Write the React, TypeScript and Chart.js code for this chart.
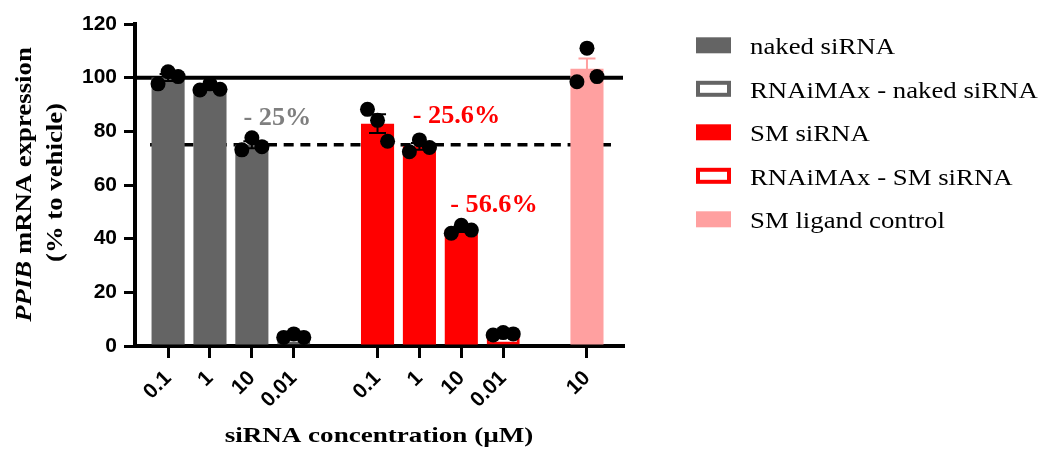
import React, { useEffect, useRef } from 'react';
import { Chart, registerables } from 'chart.js';

Chart.register(...registerables);

// Concentration labels along the x axis; empty strings are the gaps between groups.
const xCategories = ['0.1', '1', '10', '0.01', '', '0.1', '1', '10', '0.01', '', '10'];

// Replicate measurements (% of vehicle) for each bar, by x slot.
const nakedSlots = [0, 1, 2];
const nakedValues = [
  [97.7, 102.2, 100.4],
  [95.4, 97.7, 95.7],
  [73.1, 77.6, 74.3],
];
const rnaimaxNakedSlots = [3];
const rnaimaxNakedValues = [[3.2, 4.5, 3.2]];
const smSlots = [5, 6, 7];
const smValues = [
  [88.2, 84.1, 76.3],
  [72.4, 76.8, 74.0],
  [42.0, 45.0, 43.2],
];
const rnaimaxSmSlots = [8];
const rnaimaxSmValues = [[4.1, 5.0, 4.5]];
const ligandSlots = [10];
const ligandValues = [[98.5, 111.0, 100.4]];

const seriesNames = [
  'naked siRNA',
  'RNAiMAx - naked siRNA',
  'SM siRNA',
  'RNAiMAx - SM siRNA',
  'SM ligand control',
];

const yMin = 0;
const yMax = 120;
const yStep = 20;
const referenceLevel = 100;
const thresholdLevel = 75;

const GRAY = '#646464';
const RED = '#FF0000';
const PINK = '#FFA0A0';

const SERIF = "'Liberation Serif', 'Times New Roman', serif";
const SANS = "'Liberation Sans', Arial, sans-serif";

const mean = (a: number[]) => a.reduce((s, v) => s + v, 0) / a.length;
const sem = (a: number[]) => {
  const m = mean(a);
  const v = a.reduce((s, x) => s + (x - m) * (x - m), 0) / (a.length - 1);
  return Math.sqrt(v / a.length);
};

const series = [
  { name: seriesNames[0], slots: nakedSlots, values: nakedValues, fill: GRAY, stroke: GRAY, err: '#000' },
  { name: seriesNames[1], slots: rnaimaxNakedSlots, values: rnaimaxNakedValues, fill: '#FFFFFF', stroke: GRAY, err: '#000' },
  { name: seriesNames[2], slots: smSlots, values: smValues, fill: RED, stroke: RED, err: '#000' },
  { name: seriesNames[3], slots: rnaimaxSmSlots, values: rnaimaxSmValues, fill: '#FFFFFF', stroke: RED, err: '#000' },
  { name: seriesNames[4], slots: ligandSlots, values: ligandValues, fill: PINK, stroke: PINK, err: PINK },
];

// Knock-down annotations, placed in data units.
const knockdownNotes = [
  { text: '- 25%', color: '#7F7F7F', x: 2.61, y: 82.5 },
  { text: '- 25.6%', color: RED, x: 6.885, y: 83.2 },
  { text: '- 56.6%', color: RED, x: 7.78, y: 50.1 },
];

const tickSlots = xCategories.map((c, i) => (c ? i : -1)).filter((i) => i >= 0);
const replicateSpread = 0.24;

function drawStretched(
  ctx: CanvasRenderingContext2D,
  text: string,
  x: number,
  y: number,
  font: string,
  color: string,
  sx: number,
  align: CanvasTextAlign
) {
  ctx.save();
  ctx.translate(x, y);
  ctx.scale(sx, 1);
  ctx.font = font;
  ctx.fillStyle = color;
  ctx.textAlign = align;
  ctx.textBaseline = 'alphabetic';
  ctx.fillText(text, 0, 0);
  ctx.restore();
}

const referenceLinesPlugin = {
  id: 'referenceLines',
  beforeDatasetsDraw(chart: any) {
    const { ctx, chartArea, scales } = chart;
    const x = scales.x;
    const y = scales.y;
    ctx.save();
    ctx.strokeStyle = '#000';
    ctx.lineWidth = 4;
    const yRef = y.getPixelForValue(referenceLevel);
    ctx.beginPath();
    ctx.moveTo(chartArea.left, yRef);
    ctx.lineTo(chartArea.right, yRef);
    ctx.stroke();
    const yThr = y.getPixelForValue(thresholdLevel);
    ctx.lineWidth = 3.5;
    ctx.setLineDash([10, 6.7]);
    ctx.beginPath();
    ctx.moveTo(x.getPixelForValue(-0.43), yThr);
    ctx.lineTo(x.getPixelForValue(10.65), yThr);
    ctx.stroke();
    ctx.restore();
  },
};

const errorBarsPlugin = {
  id: 'errorBars',
  afterDatasetDraw(chart: any, args: any) {
    const ds = chart.data.datasets[args.index];
    if (!ds.replicates) return;
    const { ctx } = chart;
    const y = chart.scales.y;
    ctx.save();
    ctx.strokeStyle = ds.errorColor;
    ctx.lineWidth = 2;
    args.meta.data.forEach((bar: any, i: number) => {
      const reps = ds.replicates[i];
      const m = mean(reps);
      const e = sem(reps);
      const top = y.getPixelForValue(m + e);
      const bottom = y.getPixelForValue(m - e);
      const cx = bar.x;
      ctx.beginPath();
      ctx.moveTo(cx, top);
      ctx.lineTo(cx, bottom);
      ctx.moveTo(cx - 8.5, top);
      ctx.lineTo(cx + 8.5, top);
      ctx.moveTo(cx - 8.5, bottom);
      ctx.lineTo(cx + 8.5, bottom);
      ctx.stroke();
    });
    ctx.restore();
  },
};

const textPlugin = {
  id: 'textLayer',
  afterDraw(chart: any) {
    const { ctx } = chart;
    const x = chart.scales.x;
    const y = chart.scales.y;

    // y-axis title (two lines, rotated)
    const titleSize = 24;
    const titleSx = 1.115;
    const italicFont = `italic bold ${titleSize}px ${SERIF}`;
    const boldFont = `bold ${titleSize}px ${SERIF}`;
    ctx.save();
    ctx.translate(31, 184.5);
    ctx.rotate(-Math.PI / 2);
    ctx.scale(titleSx, 1);
    ctx.fillStyle = '#000';
    ctx.textBaseline = 'alphabetic';
    ctx.textAlign = 'left';
    ctx.font = italicFont;
    const wGene = ctx.measureText('PPIB').width;
    ctx.font = boldFont;
    const wRest = ctx.measureText(' mRNA expression').width;
    const start = -(wGene + wRest) / 2;
    ctx.font = italicFont;
    ctx.fillText('PPIB', start, 0);
    ctx.font = boldFont;
    ctx.fillText(' mRNA expression', start + wGene, 0);
    ctx.restore();

    ctx.save();
    ctx.translate(62, 182.5);
    ctx.rotate(-Math.PI / 2);
    ctx.scale(titleSx, 1);
    ctx.fillStyle = '#000';
    ctx.textAlign = 'center';
    ctx.textBaseline = 'alphabetic';
    ctx.font = boldFont;
    ctx.fillText('(% to vehicle)', 0, 0);
    ctx.restore();

    // x-axis title
    drawStretched(ctx, 'siRNA concentration (\u00B5M)', 379, 442, `bold 22px ${SERIF}`, '#000', 1.23, 'center');

    // knock-down annotations
    knockdownNotes.forEach((n) => {
      drawStretched(
        ctx,
        n.text,
        x.getPixelForValue(n.x),
        y.getPixelForValue(n.y),
        `bold 25px ${SERIF}`,
        n.color,
        1.05,
        'center'
      );
    });

    // legend
    const bars = chart.data.datasets.filter((d: any) => d.type === 'bar');
    bars.forEach((d: any, i: number) => {
      const cy = 45.3 + i * 43.5;
      const bx = 696;
      const bw = 35;
      const bh = 16;
      ctx.save();
      ctx.fillStyle = d.borderColor;
      ctx.fillRect(bx, cy - bh / 2, bw, bh);
      if (d.backgroundColor !== d.borderColor) {
        ctx.fillStyle = d.backgroundColor;
        ctx.fillRect(bx + 4, cy - bh / 2 + 4, bw - 8, bh - 8);
      }
      ctx.restore();
      drawStretched(ctx, d.label, 750, cy + 9, `22.5px ${SERIF}`, '#000', 1.19, 'left');
    });
  },
};

export default function App() {
  const canvasRef = useRef<HTMLCanvasElement | null>(null);

  useEffect(() => {
    document.body.style.margin = '0';
    document.body.style.overflow = 'hidden';
    const canvas = canvasRef.current;
    if (!canvas) return;

    const barSets = series.map((s) => ({
      type: 'bar' as const,
      label: s.name,
      data: s.slots.map((slot, i) => ({ x: slot, y: mean(s.values[i]) })),
      backgroundColor: s.fill,
      borderColor: s.stroke,
      borderWidth: s.fill === s.stroke ? 0 : 3,
      borderSkipped: false,
      grouped: false,
      categoryPercentage: 1,
      barPercentage: 0.79,
      order: 1,
      replicates: s.values,
      errorColor: s.err,
    }));

    const points: { x: number; y: number }[] = [];
    series.forEach((s) => {
      s.slots.forEach((slot, i) => {
        s.values[i].forEach((v, j) => {
          points.push({ x: slot + (j - (s.values[i].length - 1) / 2) * replicateSpread, y: v });
        });
      });
    });

    const chart = new Chart(canvas, {
      type: 'bar',
      data: {
        datasets: [
          ...barSets,
          {
            type: 'scatter' as const,
            label: 'replicates',
            data: points,
            pointRadius: 7.5,
            pointBackgroundColor: '#000',
            pointBorderWidth: 0,
            showLine: false,
            order: 0,
          },
        ] as any,
      },
      options: {
        responsive: false,
        devicePixelRatio: 1,
        animation: false,
        layout: { padding: { top: 24, right: 418, bottom: 0, left: 0 } },
        plugins: {
          legend: { display: false },
          tooltip: { enabled: false },
        },
        scales: {
          x: {
            type: 'linear',
            offset: false,
            min: -0.79,
            max: 10.86,
            afterBuildTicks: (s: any) => {
              s.ticks = tickSlots.map((v) => ({ value: v }));
            },
            afterFit: (s: any) => {
              s.height = 105;
            },
            ticks: {
              autoSkip: false,
              minRotation: 45,
              maxRotation: 45,
              padding: 8,
              color: '#000',
              font: { family: SANS, size: 21, weight: 'bold' },
              callback: (v: any) => xCategories[v],
            },
            grid: {
              offset: false,
              drawOnChartArea: false,
              drawTicks: true,
              tickLength: 12,
              tickWidth: 3,
              tickColor: '#000',
              lineWidth: 3,
              color: '#000',
            },
            border: { color: '#000', width: 4 },
          },
          y: {
            min: yMin,
            max: yMax,
            afterFit: (s: any) => {
              s.width = 135;
            },
            ticks: {
              stepSize: yStep,
              padding: 7,
              color: '#000',
              font: { family: SANS, size: 21, weight: 'bold' },
            },
            grid: {
              drawOnChartArea: false,
              drawTicks: true,
              tickLength: 11,
              tickWidth: 3,
              tickColor: '#000',
              lineWidth: 3,
              color: '#000',
            },
            border: { color: '#000', width: 4 },
          },
        },
      } as any,
      plugins: [referenceLinesPlugin, errorBarsPlugin, textPlugin],
    });

    return () => chart.destroy();
  }, []);

  return (
    <div style={{ width: 1041, height: 451 }}>
      <canvas ref={canvasRef} width={1041} height={451} style={{ display: 'block' }} />
    </div>
  );
}
